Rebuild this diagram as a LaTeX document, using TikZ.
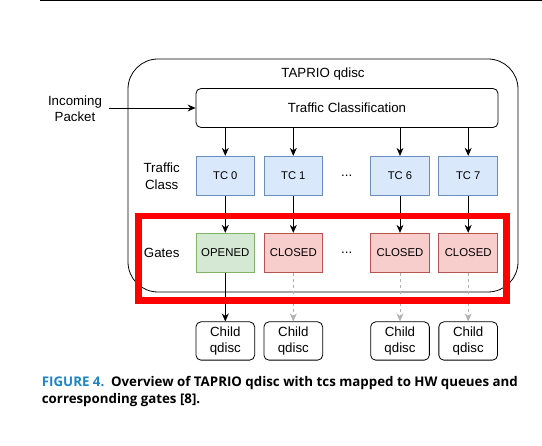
\documentclass[tikz,border=0pt]{standalone}
\usepackage{fontspec}
\setmainfont{Liberation Sans}
\newfontfamily\capfont{Open Sans}
\usetikzlibrary{arrows.meta}
\definecolor{tcfill}{HTML}{DAE8FC}
\definecolor{tcdraw}{HTML}{6C8EBF}
\definecolor{opfill}{HTML}{D5E8D4}
\definecolor{opdraw}{HTML}{82B366}
\definecolor{clfill}{HTML}{F8CECC}
\definecolor{cldraw}{HTML}{B85450}
\definecolor{capblue}{HTML}{1A86C8}
\begin{document}
\begin{tikzpicture}[x=1pt,y=-1pt,
  every node/.style={font=\fontsize{13.3}{16.5}\selectfont, inner sep=0pt},
  box/.style={draw=black, line width=0.8pt, minimum width=58.7pt, minimum height=39.5pt, align=center},
  tcbox/.style={box, fill=tcfill, draw=tcdraw, font=\fontsize{11.2}{13}\selectfont},
  openbox/.style={box, fill=opfill, draw=opdraw, font=\fontsize{11.4}{13}\selectfont},
  closedbox/.style={box, fill=clfill, draw=cldraw, font=\fontsize{11.4}{13}\selectfont},
  childbox/.style={box, rounded corners=5pt, minimum height=38.3pt},
  arr/.style={line width=0.8pt, -{Stealth[length=8pt,width=7pt]}},
  offarr/.style={arr, dashed, draw=black!30}]
\useasboundingbox (0,0) rectangle (542,446);
\draw [line width=1.5pt] (40,0.5) -- (542,0.5);
% qdisc frame
\draw [line width=0.8pt, rounded corners=30pt] (128,59) rectangle (518,292);
\node (taprio) at (323,74) {TAPRIO qdisc};
\node [draw=black, line width=0.8pt, rounded corners=5pt, minimum width=302pt, minimum height=39pt] (tcl) at (347,108) {Traffic Classification};
\node [align=center] (inc) at (75,108.5) {Incoming\\Packet};
\coordinate (incend) at (109,108);
\draw [arr] (incend) -- (tcl.west);
% traffic classes
\node [align=center] (tclabel) at (161.7,176) {Traffic\\Class};
\node [tcbox] (tc0) at (225.3,176) {TC 0};
\node [tcbox] (tc1) at (293.3,176) {TC 1};
\node (tcdots) at (346.7,176) {...};
\node [tcbox] (tc6) at (400,176) {TC 6};
\node [tcbox] (tc7) at (468.2,176) {TC 7};
% gates
\node (gatelabel) at (161.7,253) {Gates};
\node [openbox] (g0) at (225.3,253) {OPENED};
\node [closedbox] (g1) at (293.3,253) {CLOSED};
\node (gdots) at (346.7,253) {...};
\node [closedbox] (g6) at (400,253) {CLOSED};
\node [closedbox] (g7) at (468.2,253) {CLOSED};
% child qdiscs
\node [childbox] (c0) at (225.3,341) {Child\\qdisc};
\node [childbox] (c1) at (293.3,341) {Child\\qdisc};
\node [childbox] (c6) at (400,341) {Child\\qdisc};
\node [childbox] (c7) at (468.2,341) {Child\\qdisc};
\foreach \i in {0,1,6,7} {
  \draw [arr] (tc\i |- tcl.south) -- (tc\i);
  \draw [arr] (tc\i) -- (g\i);
}
\draw [arr] (g0) -- (c0);
\foreach \i in {1,6,7}
  \draw [offarr] (g\i) -- (c\i);
% highlight
\draw [red, line width=6.5pt] (138.3,216) rectangle (506.7,300.7);
% caption
\node [anchor=north west, align=left, font=\capfont\bfseries\fontsize{13.3}{16.8}\selectfont] (cap) at (41.7,376.5) {\textcolor{capblue}{FIGURE 4.}\enspace Overview of TAPRIO qdisc with tcs mapped to HW queues and\\corresponding gates [8].};
\end{tikzpicture}
\end{document}
